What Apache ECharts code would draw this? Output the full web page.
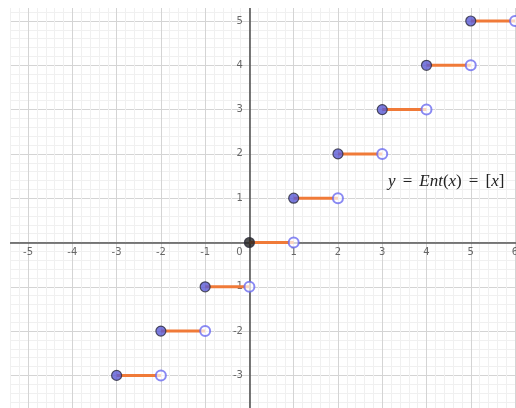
<!DOCTYPE html>
<html><head><meta charset="utf-8">
<script src="https://cdn.jsdelivr.net/npm/echarts@6/dist/echarts.min.js"></script>
<style>html,body{margin:0;padding:0;background:#fff}#c{width:516px;height:408px}</style>
</head><body><div id="c"></div>
<script>
const stepStarts = [-3, -2, -1, 0, 1, 2, 3, 4, 5];
const stepValues = [-3, -2, -1, 0, 1, 2, 3, 4, 5];
const xTickLabels = [-5, -4, -3, -2, -1, 1, 2, 3, 4, 5, 6];
const yTickLabels = [-3, -2, -1, 1, 2, 3, 4, 5];
const originLabel = [0];

const chart = echarts.init(document.getElementById('c'), null, {renderer: 'canvas'});
const series = [];
stepStarts.forEach((s, i) => {
  series.push({
    type: 'line', data: [[s, stepValues[i]], [s + 1, stepValues[i]]],
    symbol: 'none', lineStyle: {color: '#f07a38', width: 3}, z: 3, silent: true
  });
});
series.push({
  type: 'scatter', z: 4, symbolSize: 10,
  data: stepStarts.map((s, i) => [s + 1, stepValues[i]]),
  itemStyle: {color: 'rgba(255,255,255,0.85)', borderColor: '#6b6bf0', borderWidth: 2}
});
series.push({
  type: 'scatter', z: 5, symbolSize: 10,
  data: stepStarts.map((s, i) => ({
    value: [s, stepValues[i]],
    itemStyle: {color: s === 0 ? '#222' : '#5a5ad6', borderColor: '#2a2a3a', borderWidth: 1.2}
  }))
});
const lblStyle = {fontSize: 10, color: '#444', fontFamily: 'DejaVu Sans'};
series.push({
  type: 'scatter', z: 2, symbolSize: 1, itemStyle: {color: 'rgba(0,0,0,0)'}, silent: true,
  data: xTickLabels.map(v => [v, 0]),
  label: Object.assign({show: true, position: 'bottom', distance: 4,
    formatter: p => String(p.value[0])}, lblStyle),
  labelLayout: {hideOverlap: false}
});
series.push({
  type: 'scatter', z: 2, symbolSize: 1, itemStyle: {color: 'rgba(0,0,0,0)'}, silent: true,
  data: originLabel.map(v => [v, v]),
  label: Object.assign({show: true, position: 'bottom', distance: 4, offset: [-10, 0],
    formatter: p => String(p.value[0])}, lblStyle)
});
series.push({
  type: 'scatter', z: 2, symbolSize: 1, itemStyle: {color: 'rgba(0,0,0,0)'}, silent: true,
  data: yTickLabels.map(v => [0, v]),
  label: Object.assign({show: true, position: 'left', distance: 6,
    formatter: p => String(p.value[1])}, lblStyle)
});

const axisCommon = {
  type: 'value', interval: 1,
  axisLine: {onZero: true, lineStyle: {color: '#555', width: 1.6}},
  axisTick: {show: false},
  axisLabel: {show: false},
  splitLine: {show: true, lineStyle: {color: '#d4d4d4', width: 1}},
  minorTick: {show: false, splitNumber: 5},
  minorSplitLine: {show: true, lineStyle: {color: '#f0f0f0', width: 1}}
};

const sp = '\u2004\u200A';
chart.setOption({
  animation: false,
  grid: {left: -16.2, right: -43.3, top: -23.3, bottom: -11.7, containLabel: false, outerBoundsMode: 'none'},
  xAxis: Object.assign({}, axisCommon, {min: -6, max: 7}),
  yAxis: Object.assign({}, axisCommon, {min: -4, max: 6}),
  series: series,
  graphic: [
    {type: 'rect', shape: {x: 0, y: 0, width: 516, height: 8}, style: {fill: '#fff'}, z: 100},
    {type: 'rect', shape: {x: 0, y: 0, width: 10, height: 408}, style: {fill: '#fff'}, z: 100},
    {type: 'text', x: 388, y: 182, z: 101, style: {
      text: '{i|y}{u|' + sp + '=' + sp + '}{i|Ent}{u|(}{i|x}{u|)}{u|' + sp + '=' + sp + '}{u|[}{i|x}{u|]}',
      verticalAlign: 'middle',
      rich: {
        i: {fontFamily: 'Liberation Serif', fontStyle: 'italic', fontSize: 17, fill: '#222'},
        u: {fontFamily: 'Liberation Serif', fontSize: 17, fill: '#222'}
      }
    }}
  ]
});
</script></body></html>
